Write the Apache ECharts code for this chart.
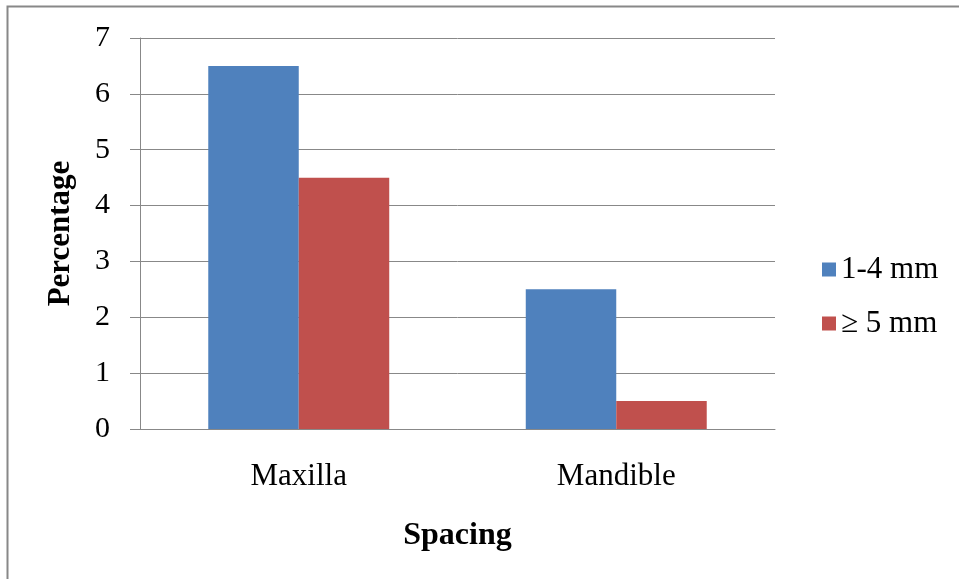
<!DOCTYPE html>
<html>
<head>
<meta charset="utf-8">
<script src="https://cdn.jsdelivr.net/npm/echarts@6/dist/echarts.min.js"></script>
<style>
    html, body { margin: 0; padding: 0; background: #fff; }
    #chart { width: 959px; height: 579px; }
</style>
</head>
<body>
<div id="chart"></div>
<script>
// Datos
const categories = ['Maxilla', 'Mandible'];
const seriesNames = ['1-4 mm', '\u2265 5 mm'];
const small = [6.5, 2.5];
const large = [4.5, 0.5];
const yTicks = [0, 1, 2, 3, 4, 5, 6, 7];

const chart = echarts.init(document.getElementById('chart'));
const font = 'Liberation Serif';

chart.setOption({
    backgroundColor: '#fff',
    animation: false,
    graphic: [{
        type: 'rect',
        shape: { x: 7.5, y: 6.5, width: 960, height: 580 },
        style: { fill: 'none', stroke: '#888', lineWidth: 2 }
    }],
    grid: { left: 140, right: 184, top: 38, bottom: 150 },
    legend: {
        orient: 'vertical',
        left: 817,
        top: 249,
        itemWidth: 14,
        itemHeight: 14,
        itemGap: 23,
        icon: 'rect',
        textStyle: { fontFamily: font, fontSize: 31, color: '#000' },
        data: seriesNames
    },
    xAxis: {
        type: 'category',
        data: categories,
        name: 'Spacing',
        nameLocation: 'middle',
        nameGap: 91,
        nameTextStyle: { fontFamily: font, fontSize: 32, fontWeight: 'bold', color: '#000' },
        axisLine: { lineStyle: { color: '#888' } },
        axisTick: { show: false },
        axisLabel: { fontFamily: font, fontSize: 31, color: '#000', margin: 32 }
    },
    yAxis: {
        type: 'value',
        min: yTicks[0],
        max: yTicks[yTicks.length - 1],
        interval: 1,
        name: 'Percentage',
        nameLocation: 'middle',
        nameGap: 64,
        nameTextStyle: { fontFamily: font, fontSize: 31, fontWeight: 'bold', color: '#000' },
        axisLine: { show: true, lineStyle: { color: '#888' } },
        axisTick: { show: true, length: 10, lineStyle: { color: '#888' } },
        axisLabel: { fontFamily: font, fontSize: 30, color: '#000', margin: 30 },
        splitLine: { lineStyle: { color: '#888' } }
    },
    series: [
        {
            name: seriesNames[0],
            type: 'bar',
            data: small,
            barGap: '0%',
            barCategoryGap: '43%',
            itemStyle: { color: '#4f81bd' }
        },
        {
            name: seriesNames[1],
            type: 'bar',
            data: large,
            itemStyle: { color: '#c0504d' }
        }
    ]
});
</script>
</body>
</html>
